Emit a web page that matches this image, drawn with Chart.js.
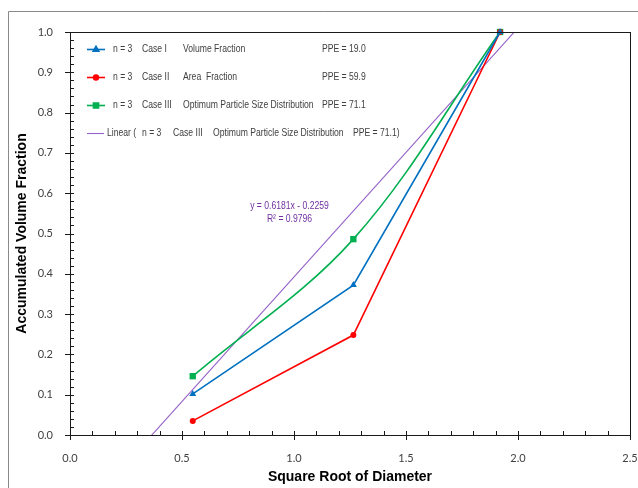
<!DOCTYPE html>
<html>
<head>
<meta charset="utf-8">
<script src="https://cdn.jsdelivr.net/npm/chart.js@4/dist/chart.umd.min.js"></script>
<style>
  html, body { margin: 0; padding: 0; background: #fff; }
  #wrap { width: 638px; height: 488px; }
</style>
</head>
<body>
<div id="wrap"><canvas id="myChart" width="638" height="488"></canvas></div>
<script>
// square root of diameter for the three size classes
var sqrtDiameter = [0.548, 1.265, 1.92];

// accumulated volume fraction per case
var caseI   = [0.102, 0.372, 1.0];
var caseII  = [0.035, 0.248, 1.0];
var caseIII = [0.146, 0.486, 1.0];

// linear fit of case III
var fitSlope = 0.6181;
var fitIntercept = -0.2259;
var fitR2 = 0.9796;
var fitRange = [0.3, 2.05];

// legend text, split into columns
var legendCols = [
    ['n = 3', 'Case I', 'Volume Fraction', 'PPE = 19.0'],
    ['n = 3', 'Case II', 'Area  Fraction', 'PPE = 59.9'],
    ['n = 3', 'Case III', 'Optimum Particle Size Distribution', 'PPE = 71.1']
];
var trendCols = ['Linear (', 'n = 3', 'Case III', 'Optimum Particle Size Distribution', 'PPE = 71.1)'];

var xTicks = [0, 0.5, 1.0, 1.5, 2.0, 2.5];
var yTicks = [0, 0.1, 0.2, 0.3, 0.4, 0.5, 0.6, 0.7, 0.8, 0.9, 1.0];

var BLUE = '#0070C0', RED = '#FF0000', GREEN = '#00B050', PURPLE = '#9461C8';
var TXT = '#404040';
var SMALL = '10.5px "Liberation Sans", Arial, sans-serif';

function pts(xs, ys) {
    return xs.map(function (x, i) { return { x: x, y: ys[i] }; });
}

// condensed text: regular sans squeezed horizontally
function narrowText(c, t, x, y) {
    c.save();
    c.translate(x, y);
    c.scale(0.82, 1);
    c.fillText(t, 0, 0);
    c.restore();
}

var trendPts = fitRange.map(function (x) { return { x: x, y: fitSlope * x + fitIntercept }; });

// outer frame, plot box and axis tick marks
var framePlugin = {
    id: 'frame',
    beforeDraw: function (chart) {
        var c = chart.ctx;
        c.save();
        c.strokeStyle = '#8a8a8a';
        c.lineWidth = 1;
        c.beginPath();
        c.moveTo(8.5, 500);
        c.lineTo(8.5, 11.5);
        c.lineTo(700, 11.5);
        c.stroke();
        c.restore();
    },
    afterDraw: function (chart) {
        var c = chart.ctx, a = chart.chartArea;
        var xs = chart.scales.x, ys = chart.scales.y;
        c.save();
        c.strokeStyle = '#1a1a1a';
        c.lineWidth = 1;
        c.strokeRect(Math.round(a.left) + 0.5, Math.round(a.top) + 0.5,
            Math.round(a.right - a.left), Math.round(a.bottom - a.top));
        c.beginPath();
        var i, p;
        for (i = 0; i <= 25; i++) {
            p = Math.round(xs.getPixelForValue(i / 10)) + 0.5;
            if (i % 5 === 0) {
                c.moveTo(p, a.bottom - 4); c.lineTo(p, a.bottom + 5);
            } else {
                c.moveTo(p, a.bottom - 4); c.lineTo(p, a.bottom);
            }
        }
        for (i = 0; i <= 50; i++) {
            p = Math.round(ys.getPixelForValue(i / 50)) + 0.5;
            if (i % 5 === 0) {
                c.moveTo(a.left - 5, p); c.lineTo(a.left + 4, p);
            } else {
                c.moveTo(a.left, p); c.lineTo(a.left + 4, p);
            }
        }
        c.stroke();
        c.restore();
    }
};

// legend rows and trendline equation inside the plot
var notesPlugin = {
    id: 'notes',
    afterDatasetsDraw: function (chart) {
        var c = chart.ctx;
        var xs = chart.scales.x, ys = chart.scales.y;
        var colX = [113, 142, 183, 322];
        var trendX = [107, 142, 173, 213, 353];
        var rowY = [49, 77, 105, 133];
        c.save();
        c.font = SMALL;
        c.fillStyle = TXT;
        c.textBaseline = 'middle';
        chart.data.datasets.forEach(function (ds, k) {
            var y = rowY[k];
            c.strokeStyle = ds.borderColor;
            c.lineWidth = ds.borderWidth;
            c.beginPath();
            c.moveTo(87, y + 0.5);
            c.lineTo(k < 3 ? 105 : 104, y + 0.5);
            c.stroke();
            if (ds.pointRadius > 0) {
                Chart.helpers.drawPoint(c, {
                    pointStyle: ds.pointStyle,
                    radius: ds.pointRadius * 0.8,
                    borderWidth: 1,
                    rotation: 0
                }, 96, y + 0.5);
                c.fillStyle = ds.backgroundColor;
                c.fill();
            }
            c.fillStyle = TXT;
            var cols = k < legendCols.length ? legendCols[k] : trendCols;
            var xsCol = k < legendCols.length ? colX : trendX;
            cols.forEach(function (t, j) { narrowText(c, t, xsCol[j], y); });
        });
        c.fillStyle = '#7030A0';
        c.textAlign = 'center';
        var ex = xs.getPixelForValue(0.98), ey = ys.getPixelForValue(0.568);
        narrowText(c, 'y = ' + fitSlope.toFixed(4) + 'x - ' + Math.abs(fitIntercept).toFixed(4), ex, ey);
        narrowText(c, 'R\u00b2 = ' + fitR2.toFixed(4), ex, ey + 13);
        c.restore();
    }
};

var ctx = document.getElementById('myChart').getContext('2d');

var myChart = new Chart(ctx, {
    type: 'line',
    data: {
        datasets: [{
            label: legendCols[0].join(' '),
            data: pts(sqrtDiameter, caseI),
            borderColor: BLUE,
            backgroundColor: BLUE,
            borderWidth: 1.6,
            pointStyle: 'triangle',
            pointRadius: 4,
            pointBorderWidth: 0,
            tension: 0,
            clip: false
        }, {
            label: legendCols[1].join(' '),
            data: pts(sqrtDiameter, caseII),
            borderColor: RED,
            backgroundColor: RED,
            borderWidth: 1.6,
            pointStyle: 'circle',
            pointRadius: 3,
            pointBorderWidth: 0,
            tension: 0,
            clip: false
        }, {
            label: legendCols[2].join(' '),
            data: pts(sqrtDiameter, caseIII),
            borderColor: GREEN,
            backgroundColor: GREEN,
            borderWidth: 1.6,
            pointStyle: 'rect',
            pointRadius: 4.5,
            pointBorderWidth: 0,
            tension: 0.35,
            clip: false
        }, {
            label: trendCols.join(' '),
            data: trendPts,
            borderColor: PURPLE,
            backgroundColor: PURPLE,
            borderWidth: 1.1,
            pointRadius: 0,
            tension: 0,
            clip: 0
        }]
    },
    options: {
        responsive: false,
        animation: false,
        layout: { padding: { left: 0, top: 32, right: 0, bottom: 0 } },
        plugins: {
            legend: { display: false },
            tooltip: { enabled: false }
        },
        scales: {
            x: {
                type: 'linear',
                min: 0,
                max: 2.5,
                afterFit: function (s) { s.height = 53; s.paddingRight = 8; },
                afterBuildTicks: function (s) { s.ticks = xTicks.map(function (v) { return { value: v }; }); },
                grid: { display: false },
                border: { display: false },
                ticks: {
                    padding: 9,
                    color: TXT,
                    font: { family: 'Lato', size: 11 },
                    callback: function (v) { return v.toFixed(1); }
                },
                title: {
                    display: true,
                    text: 'Square Root of Diameter',
                    color: '#000',
                    padding: { top: 0, bottom: 2 },
                    font: { family: 'Liberation Sans', size: 14, weight: 'bold' }
                }
            },
            y: {
                type: 'linear',
                min: 0,
                max: 1,
                afterFit: function (s) { s.width = 70; },
                afterBuildTicks: function (s) { s.ticks = yTicks.map(function (v) { return { value: v }; }); },
                grid: { display: false },
                border: { display: false },
                ticks: {
                    padding: 9,
                    color: TXT,
                    font: { family: 'Lato', size: 11 },
                    callback: function (v) { return v.toFixed(1); }
                },
                title: {
                    display: true,
                    text: 'Accumulated Volume Fraction',
                    color: '#000',
                    padding: { top: 14, bottom: 0 },
                    font: { family: 'Liberation Sans', size: 14, weight: 'bold' }
                }
            }
        }
    },
    plugins: [framePlugin, notesPlugin]
});
</script>
</body>
</html>
